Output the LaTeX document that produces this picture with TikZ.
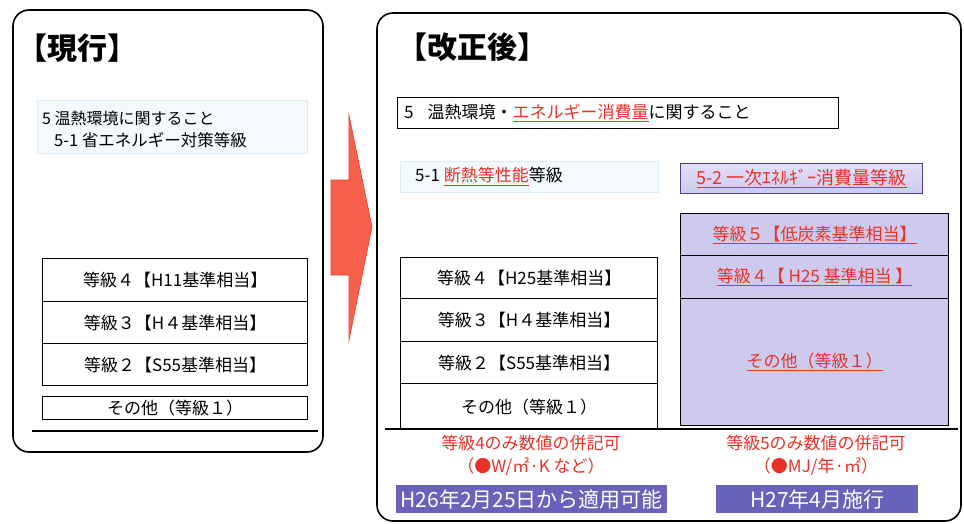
\documentclass[tikz,border=0pt]{standalone}
\usepackage{fontspec}
\setmainfont{Noto Sans CJK JP}
\definecolor{redt}{RGB}{232,50,40}
\definecolor{arrowred}{RGB}{247,96,76}
\definecolor{arrowedge}{RGB}{240,60,40}
\definecolor{lav}{RGB}{206,202,238}
\definecolor{lavtop}{RGB}{226,222,248}
\definecolor{purb}{RGB}{86,58,140}
\definecolor{blueb}{RGB}{104,98,186}
\definecolor{faintfill}{RGB}{243,249,252}
\definecolor{faintdraw}{RGB}{220,236,246}
\newcommand{\ru}[1]{\textcolor{redt}{\underline{#1}}}
\begin{document}
\begin{tikzpicture}[x=1pt,y=-1pt,
  panel/.style={draw, line width=1.6pt, rounded corners=16pt},
  titletext/.style={anchor=west, inner sep=0pt, font=\fontsize{30}{33}\selectfont\bfseries},
  body/.style={font=\fontsize{17}{20}\selectfont},
  cell/.style={draw, line width=1.3pt, fill=white, inner sep=0pt, anchor=north west, body},
  pcell/.style={draw=black, line width=1.3pt, fill=lav, inner sep=0pt, anchor=north west, body},
  faint/.style={draw=faintdraw, line width=0.8pt, fill=faintfill, inner sep=0pt, anchor=north west},
  bluebox/.style={fill=blueb, text=white, inner sep=0pt, anchor=north west, font=\fontsize{21}{24}\selectfont},
  redtxt/.style={text=redt, align=center, font=\fontsize{17}{23}\selectfont},
  baseline/.style={line width=2.4pt}
]
\useasboundingbox (0,0) rectangle (964,523);

% ---------- left panel ----------
\draw[panel] (13,10) rectangle (323,452);
\node[titletext] (tl) at (17,48) {【現行】};
\node[faint, minimum width=270pt, minimum height=53pt] (linfo) at (37,100) {};
\node[anchor=west, inner sep=0pt, font=\fontsize{16}{19}\selectfont] (linfo1) at (42,118) {5 温熱環境に関すること};
\node[anchor=west, inner sep=0pt, font=\fontsize{16.5}{19}\selectfont] (linfo2) at (54,140) {5-1 省エネルギー対策等級};

\node[cell, minimum width=265pt, minimum height=43pt] (l4) at (42,258) {等級４【H11基準相当】};
\node[cell, minimum width=265pt, minimum height=42pt] (l3) at (42,301) {等級３【H４基準相当】};
\node[cell, minimum width=265pt, minimum height=42pt] (l2) at (42,343) {等級２【S55基準相当】};
\node[cell, minimum width=265pt, minimum height=23pt] (l1) at (42,396) {その他（等級１）};
\draw[baseline] (32,431) -- (318,431);

% ---------- arrow ----------
\filldraw[fill=arrowred, draw=arrowedge, line width=0.6pt]
  (331,180) -- (349,180) -- (349,115) -- (372,227) -- (349,340) -- (349,275) -- (331,275) -- cycle;

% ---------- right panel ----------
\draw[panel] (377,13) rectangle (961,521);
\node[titletext] (tr) at (397,47) {【改正後】};
\node[draw, line width=1.3pt, inner sep=0pt, anchor=north west, minimum width=441pt, minimum height=31pt] (r5) at (397,97) {};
\node[anchor=west, inner sep=0pt, body] (r5t) at (404,112.5) {5\hspace{14pt}温熱環境・\ru{エネルギー消費量}に関すること};

\node[faint, minimum width=258pt, minimum height=31pt] (r51) at (400,161) {};
\node[anchor=west, inner sep=0pt, body] (r51t) at (415,176.5) {5-1 \ru{断熱等性能}等級};

\node[draw=purb, line width=1.3pt, top color=lavtop, bottom color=lav, inner sep=0pt, anchor=north west,
      minimum width=242pt, minimum height=30pt, font=\fontsize{18}{20}\selectfont] (r52) at (680,163) {\ru{5-2 一次ｴﾈﾙｷﾞｰ消費量等級}};

% left column of grades
\node[cell, minimum width=257pt, minimum height=41pt] (r4) at (400,257) {等級４【H25基準相当】};
\node[cell, minimum width=257pt, minimum height=43pt] (r3) at (400,298) {等級３【H４基準相当】};
\node[cell, minimum width=257pt, minimum height=42pt] (r2) at (400,341) {等級２【S55基準相当】};
\node[cell, minimum width=257pt, minimum height=46pt] (r1) at (400,383) {その他（等級１）};

% right column of grades
\node[pcell, minimum width=268pt, minimum height=42pt] (p5) at (680,213) {\ru{等級５【低炭素基準相当】}};
\node[pcell, minimum width=268pt, minimum height=43pt] (p4) at (680,255) {\ru{等級４【 H25 基準相当 】}};
\node[pcell, minimum width=268pt, minimum height=127pt] (p1) at (680,298) {\ru{その他（等級１）}};

\draw[baseline] (385,429) -- (958,429);

% ---------- notes ----------
\node[redtxt] (n4) at (531,455) {等級4のみ数値の併記可\\（●W/㎡·K など）};
\node[redtxt] (n5) at (816,455) {等級5のみ数値の併記可\\（●MJ/年·㎡）};

\node[bluebox, minimum width=271pt, minimum height=28pt] (d4) at (396,485) {H26年2月25日から適用可能};
\node[bluebox, minimum width=202pt, minimum height=28pt] (d5) at (716,485) {H27年4月施行};
\end{tikzpicture}
\end{document}
